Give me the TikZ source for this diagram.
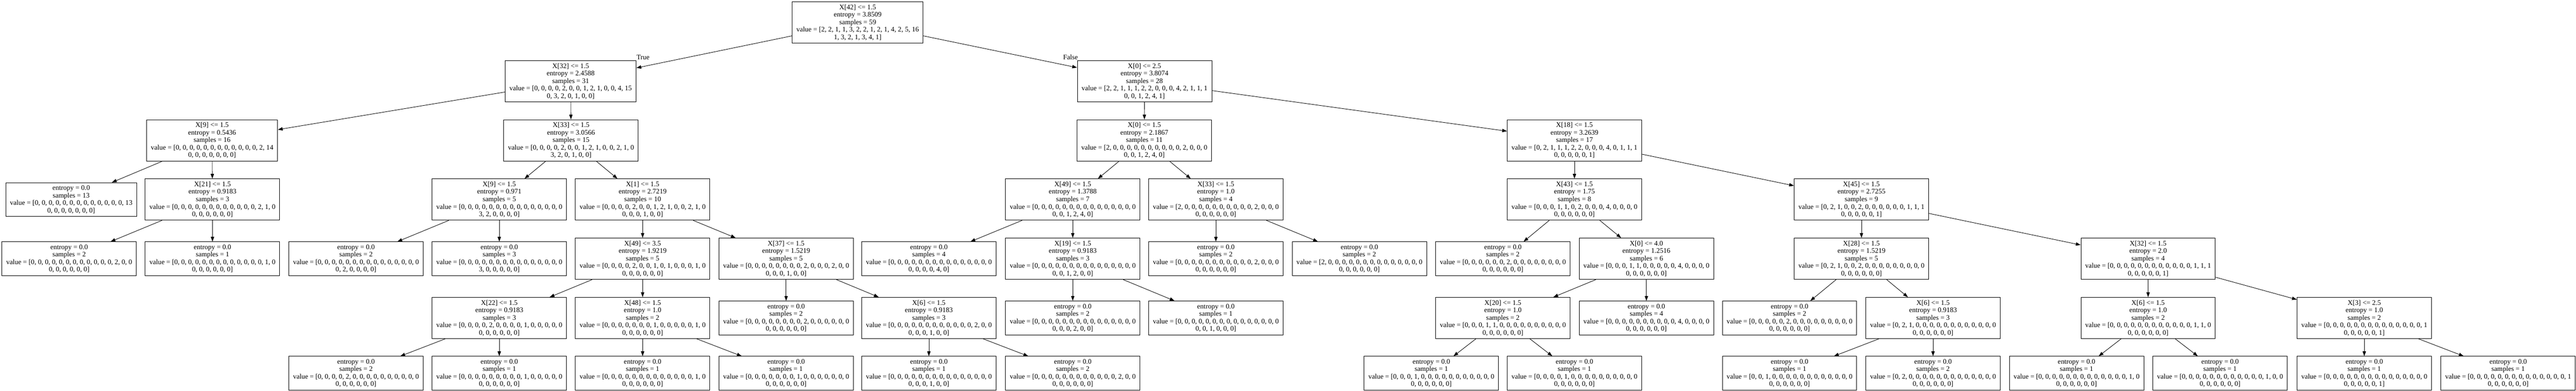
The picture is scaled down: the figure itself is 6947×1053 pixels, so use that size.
\documentclass[tikz,border=0pt]{standalone}
\usepackage{fontspec}
\setmainfont{Liberation Serif}
\usetikzlibrary{arrows.meta}
\newcommand\ZerosA{0, 0, 0, 0, 0, 0, 0, 0, 0, 0, 0, 0, 0, 0, 0}
\newcommand\ZerosB{0, 0, 0, 0, 0, 0}
\newcommand\DecNode[8]{\node[decbox] (#1) at (#2,#3) {#4\\entropy = #5\\samples = #6\\value = [#7\\#8]};}
\newcommand\LeafNode[6]{\node[leafbox] (#1) at (#2,#3) {entropy = 0.0\\samples = #4\\value = [#5\\#6]};}
\begin{document}
\begin{tikzpicture}[x=1pt,y=-1pt,
  nodebox/.style={draw=black, line width=1.3pt, rectangle, align=center, inner xsep=11.5pt, inner ysep=0pt, font=\fontsize{18.8}{20.2}\selectfont},
  decbox/.style={nodebox, minimum height=111pt},
  leafbox/.style={nodebox, minimum height=91pt},
  conn/.style={draw=black, line width=1.2pt, -{Triangle[length=13pt,width=9pt]}},
  edgelbl/.style={font=\fontsize{18.8}{20.2}\selectfont, inner sep=0pt}]
\useasboundingbox (0,0) rectangle (6947,1053);
% level 0
\DecNode{root}{2313}{60.5}{X[42] <= 1.5}{3.8509}{59}{2, 2, 1, 1, 3, 2, 2, 1, 2, 1, 4, 2, 5, 16}{1, 3, 2, 1, 3, 4, 1}
% level 1
\DecNode{xa}{1539}{219}{X[32] <= 1.5}{2.4588}{31}{0, 0, 0, 0, 2, 0, 0, 1, 2, 1, 0, 0, 4, 15}{0, 3, 2, 0, 1, 0, 0}
\DecNode{xb}{3086.5}{219}{X[0] <= 2.5}{3.8074}{28}{2, 2, 1, 1, 1, 2, 2, 0, 0, 0, 4, 2, 1, 1, 1}{0, 0, 1, 2, 4, 1}
% level 2
\DecNode{xc}{572}{378}{X[9] <= 1.5}{0.5436}{16}{0, 0, 0, 0, 0, 0, 0, 0, 0, 0, 0, 0, 2, 14}{0, 0, 0, 0, 0, 0, 0}
\DecNode{xd}{1540}{378}{X[33] <= 1.5}{3.0566}{15}{0, 0, 0, 0, 2, 0, 0, 1, 2, 1, 0, 0, 2, 1, 0}{3, 2, 0, 1, 0, 0}
\DecNode{xe}{3086}{378}{X[0] <= 1.5}{2.1867}{11}{2, 0, 0, 0, 0, 0, 0, 0, 0, 0, 0, 2, 0, 0, 0}{0, 0, 1, 2, 4, 0}
\DecNode{xf}{4246}{378}{X[18] <= 1.5}{3.2639}{17}{0, 2, 1, 1, 1, 2, 2, 0, 0, 0, 4, 0, 1, 1, 1}{0, 0, 0, 0, 0, 1}
% level 3
\LeafNode{la}{192}{537.5}{13}{0, 0, 0, 0, 0, 0, 0, 0, 0, 0, 0, 0, 0, 13}{0, 0, 0, 0, 0, 0, 0}
\DecNode{xg}{573}{537.5}{X[21] <= 1.5}{0.9183}{3}{0, 0, 0, 0, 0, 0, 0, 0, 0, 0, 0, 0, 2, 1, 0}{\ZerosB}
\DecNode{xh}{1346.5}{537.5}{X[9] <= 1.5}{0.971}{5}{\ZerosA}{3, 2, 0, 0, 0, 0}
\DecNode{xi}{1733}{537.5}{X[1] <= 1.5}{2.7219}{10}{0, 0, 0, 0, 2, 0, 0, 1, 2, 1, 0, 0, 2, 1, 0}{0, 0, 0, 1, 0, 0}
\DecNode{xj}{2893}{537.5}{X[49] <= 1.5}{1.3788}{7}{\ZerosA}{0, 0, 1, 2, 4, 0}
\DecNode{xk}{3279}{537.5}{X[33] <= 1.5}{1.0}{4}{2, 0, 0, 0, 0, 0, 0, 0, 0, 0, 0, 2, 0, 0, 0}{\ZerosB}
\DecNode{xl}{4246}{537.5}{X[43] <= 1.5}{1.75}{8}{0, 0, 0, 1, 1, 0, 2, 0, 0, 0, 4, 0, 0, 0, 0}{\ZerosB}
\DecNode{xm}{5020}{537.5}{X[45] <= 1.5}{2.7255}{9}{0, 2, 1, 0, 0, 2, 0, 0, 0, 0, 0, 0, 1, 1, 1}{0, 0, 0, 0, 0, 1}
% level 4
\LeafNode{lb}{186.5}{697}{2}{0, 0, 0, 0, 0, 0, 0, 0, 0, 0, 0, 0, 2, 0, 0}{\ZerosB}
\LeafNode{lc}{573}{697}{1}{0, 0, 0, 0, 0, 0, 0, 0, 0, 0, 0, 0, 0, 1, 0}{\ZerosB}
\LeafNode{ld}{960}{697}{2}{\ZerosA}{0, 2, 0, 0, 0, 0}
\LeafNode{le}{1346.5}{697}{3}{\ZerosA}{3, 0, 0, 0, 0, 0}
\DecNode{xn}{1733}{697}{X[49] <= 3.5}{1.9219}{5}{0, 0, 0, 0, 2, 0, 0, 1, 0, 1, 0, 0, 0, 1, 0}{\ZerosB}
\DecNode{xo}{2120}{697}{X[37] <= 1.5}{1.5219}{5}{0, 0, 0, 0, 0, 0, 0, 0, 2, 0, 0, 0, 2, 0, 0}{0, 0, 0, 1, 0, 0}
\LeafNode{lf}{2505}{697}{4}{\ZerosA}{0, 0, 0, 0, 4, 0}
\DecNode{xp}{2893}{697}{X[19] <= 1.5}{0.9183}{3}{\ZerosA}{0, 0, 1, 2, 0, 0}
\LeafNode{lg}{3279}{697}{2}{0, 0, 0, 0, 0, 0, 0, 0, 0, 0, 0, 2, 0, 0, 0}{\ZerosB}
\LeafNode{lh}{3666}{697}{2}{2, 0, 0, 0, 0, 0, 0, 0, 0, 0, 0, 0, 0, 0, 0}{\ZerosB}
\LeafNode{li}{4053}{697}{2}{0, 0, 0, 0, 0, 0, 2, 0, 0, 0, 0, 0, 0, 0, 0}{\ZerosB}
\DecNode{xq}{4440}{697}{X[0] <= 4.0}{1.2516}{6}{0, 0, 0, 1, 1, 0, 0, 0, 0, 0, 4, 0, 0, 0, 0}{\ZerosB}
\DecNode{xr}{5020}{697}{X[28] <= 1.5}{1.5219}{5}{0, 2, 1, 0, 0, 2, 0, 0, 0, 0, 0, 0, 0, 0, 0}{\ZerosB}
\DecNode{xs}{5793}{697}{X[32] <= 1.5}{2.0}{4}{0, 0, 0, 0, 0, 0, 0, 0, 0, 0, 0, 0, 1, 1, 1}{0, 0, 0, 0, 0, 1}
% level 5
\DecNode{xt}{1346.5}{856.5}{X[22] <= 1.5}{0.9183}{3}{0, 0, 0, 0, 2, 0, 0, 0, 0, 1, 0, 0, 0, 0, 0}{\ZerosB}
\DecNode{xu}{1733}{856.5}{X[48] <= 1.5}{1.0}{2}{0, 0, 0, 0, 0, 0, 0, 1, 0, 0, 0, 0, 0, 1, 0}{\ZerosB}
\LeafNode{lj}{2120}{856.5}{2}{0, 0, 0, 0, 0, 0, 0, 0, 2, 0, 0, 0, 0, 0, 0}{\ZerosB}
\DecNode{xv}{2505}{856.5}{X[6] <= 1.5}{0.9183}{3}{0, 0, 0, 0, 0, 0, 0, 0, 0, 0, 0, 0, 2, 0, 0}{0, 0, 0, 1, 0, 0}
\LeafNode{lk}{2893}{856.5}{2}{\ZerosA}{0, 0, 0, 2, 0, 0}
\LeafNode{ll}{3279}{856.5}{1}{\ZerosA}{0, 0, 1, 0, 0, 0}
\DecNode{xw}{4053}{856.5}{X[20] <= 1.5}{1.0}{2}{0, 0, 0, 1, 1, 0, 0, 0, 0, 0, 0, 0, 0, 0, 0}{\ZerosB}
\LeafNode{lm}{4440}{856.5}{4}{0, 0, 0, 0, 0, 0, 0, 0, 0, 0, 4, 0, 0, 0, 0}{\ZerosB}
\LeafNode{ln}{4826}{856.5}{2}{0, 0, 0, 0, 0, 2, 0, 0, 0, 0, 0, 0, 0, 0, 0}{\ZerosB}
\DecNode{xx}{5213}{856.5}{X[6] <= 1.5}{0.9183}{3}{0, 2, 1, 0, 0, 0, 0, 0, 0, 0, 0, 0, 0, 0, 0}{\ZerosB}
\DecNode{xy}{5793}{856.5}{X[6] <= 1.5}{1.0}{2}{0, 0, 0, 0, 0, 0, 0, 0, 0, 0, 0, 0, 1, 1, 0}{\ZerosB}
\DecNode{xz}{6376}{856.5}{X[3] <= 2.5}{1.0}{2}{0, 0, 0, 0, 0, 0, 0, 0, 0, 0, 0, 0, 0, 0, 1}{0, 0, 0, 0, 0, 1}
% level 6
\LeafNode{ma}{960}{1005.5}{2}{0, 0, 0, 0, 2, 0, 0, 0, 0, 0, 0, 0, 0, 0, 0}{\ZerosB}
\LeafNode{mb}{1346.5}{1005.5}{1}{0, 0, 0, 0, 0, 0, 0, 0, 0, 1, 0, 0, 0, 0, 0}{\ZerosB}
\LeafNode{mc}{1733}{1005.5}{1}{0, 0, 0, 0, 0, 0, 0, 0, 0, 0, 0, 0, 0, 1, 0}{\ZerosB}
\LeafNode{md}{2120}{1005.5}{1}{0, 0, 0, 0, 0, 0, 0, 1, 0, 0, 0, 0, 0, 0, 0}{\ZerosB}
\LeafNode{me}{2505}{1005.5}{1}{\ZerosA}{0, 0, 0, 1, 0, 0}
\LeafNode{mf}{2893}{1005.5}{2}{0, 0, 0, 0, 0, 0, 0, 0, 0, 0, 0, 0, 2, 0, 0}{\ZerosB}
\LeafNode{mg}{3860}{1005.5}{1}{0, 0, 0, 1, 0, 0, 0, 0, 0, 0, 0, 0, 0, 0, 0}{\ZerosB}
\LeafNode{mh}{4246}{1005.5}{1}{0, 0, 0, 0, 1, 0, 0, 0, 0, 0, 0, 0, 0, 0, 0}{\ZerosB}
\LeafNode{mi}{4826}{1005.5}{1}{0, 0, 1, 0, 0, 0, 0, 0, 0, 0, 0, 0, 0, 0, 0}{\ZerosB}
\LeafNode{mj}{5213}{1005.5}{2}{0, 2, 0, 0, 0, 0, 0, 0, 0, 0, 0, 0, 0, 0, 0}{\ZerosB}
\LeafNode{mk}{5600}{1005.5}{1}{0, 0, 0, 0, 0, 0, 0, 0, 0, 0, 0, 0, 0, 1, 0}{\ZerosB}
\LeafNode{ml}{5987}{1005.5}{1}{0, 0, 0, 0, 0, 0, 0, 0, 0, 0, 0, 0, 1, 0, 0}{\ZerosB}
\LeafNode{mm}{6376}{1005.5}{1}{\ZerosA}{0, 0, 0, 0, 0, 1}
\LeafNode{mn}{6764}{1005.5}{1}{0, 0, 0, 0, 0, 0, 0, 0, 0, 0, 0, 0, 0, 0, 1}{\ZerosB}
% edge labels
\node[edgelbl] (tlab) at (1734,154) {True};
\node[edgelbl] (flab) at (2887,154) {False};
% edges
\foreach \p/\c in {root/xa, root/xb, xa/xc, xa/xd, xc/la, xc/xg, xg/lb, xg/lc,
  xd/xh, xd/xi, xh/ld, xh/le, xi/xn, xi/xo, xn/xt, xn/xu, xt/ma, xt/mb,
  xu/mc, xu/md, xo/lj, xo/xv, xv/me, xv/mf, xb/xe, xb/xf, xe/xj, xe/xk,
  xj/lf, xj/xp, xp/lk, xp/ll, xk/lg, xk/lh, xf/xl, xf/xm, xl/li, xl/xq,
  xq/xw, xq/lm, xw/mg, xw/mh, xm/xr, xm/xs, xr/ln, xr/xx, xx/mi, xx/mj,
  xs/xy, xs/xz, xy/mk, xy/ml, xz/mm, xz/mn}
  \draw[conn] (\p) -- (\c);
\end{tikzpicture}
\end{document}
